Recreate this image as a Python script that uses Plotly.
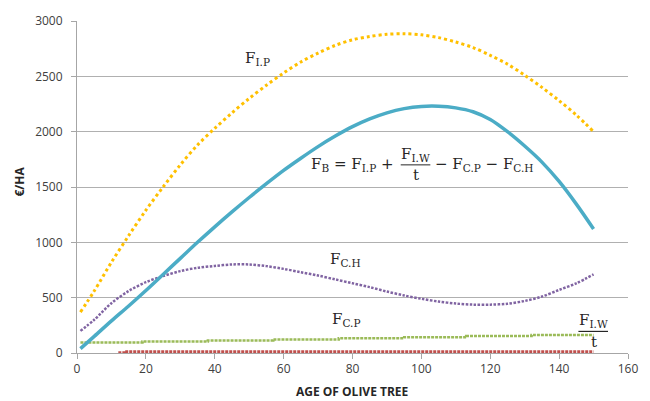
import plotly.graph_objects as go

# ---- data ----
ages = [1, 5, 10, 15, 20, 25, 30, 35, 40, 45, 50, 55, 60, 65, 70, 75,
        80, 85, 90, 95, 100, 105, 110, 115, 120, 125, 130, 135, 140, 145, 150]
f_ip = [370, 560, 820, 1060, 1290, 1500, 1700, 1880, 2030, 2170, 2300, 2420,
        2530, 2630, 2710, 2780, 2830, 2860, 2880, 2885, 2875, 2850, 2810, 2760,
        2690, 2610, 2510, 2400, 2280, 2150, 2000]
f_b = [40, 150, 290, 425, 565, 710, 855, 1000, 1140, 1275, 1405, 1530, 1650,
       1760, 1865, 1960, 2045, 2115, 2170, 2208, 2228, 2230, 2215, 2180, 2110,
       2000, 1870, 1725, 1550, 1345, 1120]
f_ch = [200, 300, 450, 560, 640, 695, 740, 770, 787, 800, 800, 785, 760, 730,
        700, 665, 630, 595, 555, 520, 490, 465, 447, 437, 437, 445, 470, 510,
        570, 630, 710]
cp_ages = [1, 19, 38, 57, 76, 95, 113, 132, 150]
f_cp = [95, 103, 112, 122, 133, 143, 153, 163, 163]
iw_ages = [12, 14, 150]
f_iw_t = [2, 12, 12]

x_ticks = [0, 20, 40, 60, 80, 100, 120, 140, 160]
y_ticks = [0, 500, 1000, 1500, 2000, 2500, 3000]

ORANGE = "#FFC000"
BLUE = "#4BACC6"
PURPLE = "#8064A2"
GREEN = "#9BBB59"
RED = "#C0504D"

fig = go.Figure()
fig.add_trace(go.Scatter(x=iw_ages, y=f_iw_t, mode="lines", line_shape="hv",
                         line=dict(color=RED, width=3, dash="3px,1px"), name="F_I.W/t",
                         cliponaxis=False))
fig.add_trace(go.Scatter(x=cp_ages, y=f_cp, mode="lines", line_shape="hv",
                         line=dict(color=GREEN, width=2.5, dash="3px,1px"), name="F_C.P"))
fig.add_trace(go.Scatter(x=ages, y=f_ch, mode="lines", line_shape="spline",
                         line=dict(color=PURPLE, width=2.5, dash="2.5px,1.5px", smoothing=0.9),
                         name="F_C.H"))
fig.add_trace(go.Scatter(x=ages, y=f_ip, mode="lines", line_shape="spline",
                         line=dict(color=ORANGE, width=3, dash="3px,3px", smoothing=0.9),
                         name="F_I.P"))
fig.add_trace(go.Scatter(x=ages, y=f_b, mode="lines", line_shape="spline",
                         line=dict(color=BLUE, width=3.5, smoothing=0.9), name="F_B"))

TXT = "#262626"
SERIF = "DejaVu Serif, Liberation Serif, serif"
ann = dict(showarrow=False, font=dict(family=SERIF, size=15, color=TXT))

annotations = [
    dict(x=52.3, y=2665, text="F<sub>I.P</sub>", xanchor="center", yanchor="middle", **ann),
    dict(x=92.6, y=1707, text="F<sub>B</sub> = F<sub>I.P</sub> +", xanchor="right", yanchor="middle", **ann),
    dict(x=98.3, y=1790, text="F<sub>I.W</sub>", xanchor="center", yanchor="middle", **ann),
    dict(x=98.3, y=1605, text="t", xanchor="center", yanchor="middle", **ann),
    dict(x=103.3, y=1707, text="\u2212 F<sub>C.P</sub> \u2212 F<sub>C.H</sub>", xanchor="left", yanchor="middle", **ann),
    dict(x=78, y=845, text="F<sub>C.H</sub>", xanchor="center", yanchor="middle", **ann),
    dict(x=78, y=305, text="F<sub>C.P</sub>", xanchor="center", yanchor="middle", **ann),
    dict(x=150, y=290, text="F<sub>I.W</sub>", xanchor="center", yanchor="middle", **ann),
    dict(x=150, y=95, text="t", xanchor="center", yanchor="middle", **ann),
    dict(x=0.5, y=-0.117, xref="paper", yref="paper", text="<b>AGE OF OLIVE TREE</b>",
         showarrow=False, xanchor="center", yanchor="middle",
         font=dict(family="Open Sans, sans-serif", size=12, color=TXT)),
    dict(x=-0.106, y=0.515, xref="paper", yref="paper", text="<b>€/HA</b>", textangle=-90,
         showarrow=False, xanchor="center", yanchor="middle",
         font=dict(family="Open Sans, sans-serif", size=12, color=TXT)),
]

shapes = [
    dict(type="line", xref="x", yref="y", x0=94.0, x1=102.6, y0=1700, y1=1700,
         line=dict(color=TXT, width=1)),
    dict(type="line", xref="x", yref="y", x0=145.6, x1=154.2, y0=195, y1=195,
         line=dict(color=TXT, width=1.2)),
]

fig.update_layout(
    width=650, height=401,
    margin=dict(l=77, r=13, t=19, b=48),
    paper_bgcolor="white", plot_bgcolor="white",
    showlegend=False,
    annotations=annotations,
    shapes=shapes,
    font=dict(family="Open Sans, sans-serif", size=12, color="#404040"),
)
fig.update_xaxes(range=[0, 160], tickvals=x_ticks, showgrid=False, zeroline=False,
                 showline=True, linecolor="#a6a6a6", linewidth=1, layer="below traces",
                 ticks="outside", ticklen=5, tickcolor="#a6a6a6")
fig.update_yaxes(range=[0, 3000], tickvals=y_ticks, showgrid=True, gridcolor="#b0b0b0",
                 gridwidth=1, zeroline=False, showline=True, linecolor="#a6a6a6",
                 linewidth=1, ticks="outside", ticklen=5, tickcolor="#a6a6a6",
                 ticklabelstandoff=6, layer="below traces")

fig.write_html("out.html")
